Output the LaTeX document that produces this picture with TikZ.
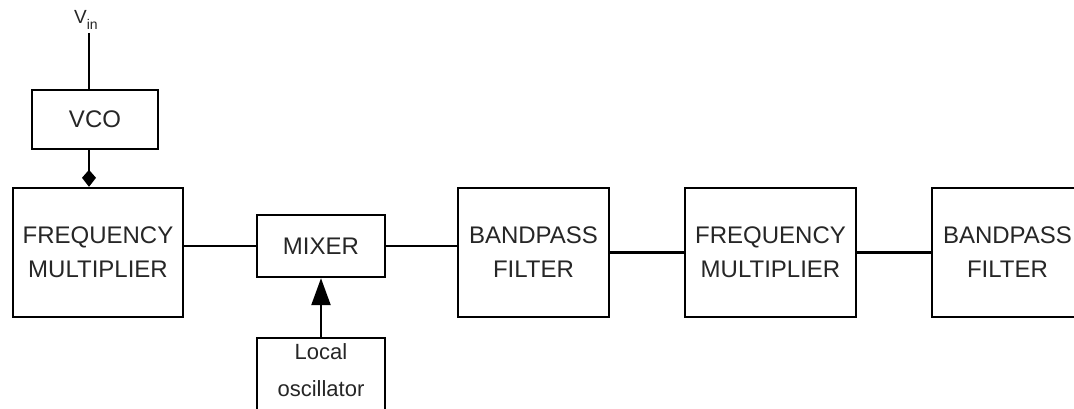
\documentclass[tikz,border=0pt]{standalone}
\usepackage{fontspec}
\setmainfont{Liberation Sans}
\usetikzlibrary{arrows.meta}
\tikzset{
  blk/.style={draw=black, line width=2.4pt, inner sep=0pt, align=center,
    text=black!85, font=\fontsize{24}{34}\selectfont},
  conn/.style={draw=black, line width=2.4pt},
  kitetip/.style={-{Kite[length=17pt,width=14pt,inset=8pt]}},
  tritip/.style={-{Triangle[length=27pt,width=19pt]}},
}
\begin{document}
\begin{tikzpicture}[x=1pt,y=-1pt]
\useasboundingbox (0,0) rectangle (1074,409);
\clip (0,0) rectangle (1074,409);
\fill[white] (0,0) rectangle (1074,409);

\node[blk, minimum width=126pt, minimum height=59pt] (vco) at (95,119.5) {VCO};
\node[blk, minimum width=170pt, minimum height=129pt] (fm1) at (98,252.5) {FREQUENCY\\MULTIPLIER};
\node[blk, minimum width=128pt, minimum height=62pt] (mixer) at (321,246) {MIXER};
\node[blk, minimum width=128pt, minimum height=110pt, anchor=north] (lo) at (321,337) {};
\node[anchor=north, align=center, text=black!85, font=\fontsize{22}{37}\selectfont, inner sep=0pt]
  (lotext) at ([yshift=-6pt]lo.north) {Local\\oscillator};
\node[blk, minimum width=151pt, minimum height=129pt] (bpf1) at (533.5,252.5) {BANDPASS\\FILTER};
\node[blk, minimum width=171pt, minimum height=129pt] (fm2) at (770.5,252.5) {FREQUENCY\\MULTIPLIER};
\node[blk, minimum width=151pt, minimum height=129pt] (bpf2) at (1007.5,252.5) {BANDPASS\\FILTER};

\coordinate (vinpt) at (89,33);
\node[anchor=south, inner sep=0pt, text=black!85, font=\fontsize{19}{24}\selectfont] (vin) at (86,30)
  {V\raisebox{-6pt}{\fontsize{14}{14}\selectfont in}};

\draw[conn] (vinpt) -- (vco.north -| vinpt);
\draw[conn, kitetip] (vco.south -| vinpt) -- (fm1.north -| vinpt);
\draw[conn] (fm1.east |- mixer.west) -- (mixer.west);
\draw[conn] (mixer.east) -- (bpf1.west |- mixer.east);
\draw[conn] (bpf1.east) -- (fm2.west);
\draw[conn] (fm2.east) -- (bpf2.west);
\draw[conn, tritip] (lo.north) -- (mixer.south);
\end{tikzpicture}
\end{document}
